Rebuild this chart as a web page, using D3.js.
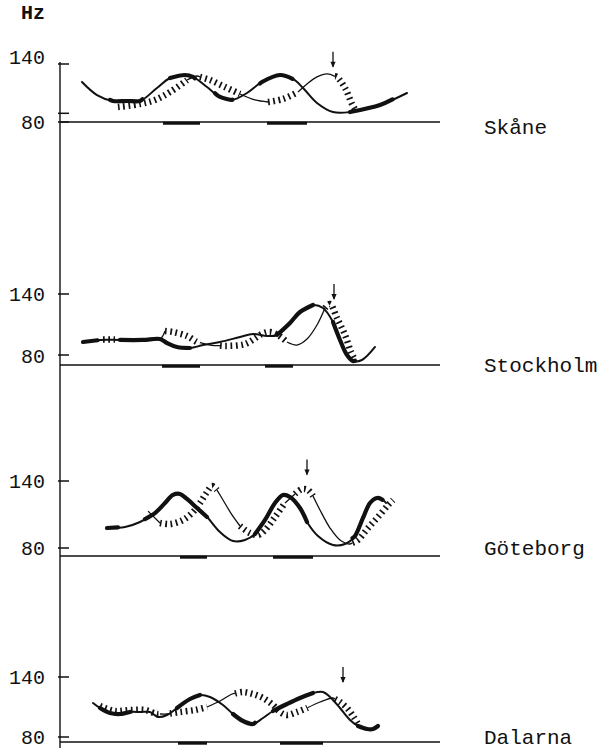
<!DOCTYPE html>
<html>
<head>
<meta charset="utf-8">
<script src="https://cdn.jsdelivr.net/npm/d3@7"></script>
<style>
  body { margin: 0; background: #fff; }
  svg text { font-family: "Liberation Mono", "Courier New", monospace; fill: #111; }
</style>
</head>
<body>
<svg id="chart" width="615" height="750"></svg>
<script>
// F0 contours (time in ms, Hz) for four Swedish dialects

var dialects = ["Skåne", "Stockholm", "Göteborg", "Dalarna"]
var hzTicks = [80, 140]
var skaneMinorTicks = [89]

// contour A: solid line, thick over the given intervals
// contour B: thin line, hatched over the given intervals
var skaneA = [[88,121.4],[148,107.9],[212,101.7],[268,101.7],[320,101.7],[388,115.2],[440,125.5],[500,128.6],[532,126.6],[588,116.2],[640,105.9],[688,102.8],[748,110],[808,121.4],[880,128.6],[932,124.5],[972,115.2],[1028,99.7],[1092,90.3],[1160,90.3],[1280,97.6],[1388,110]]
var skaneAThick = [[200,330],[440,540],[620,690],[800,930],[1160,1330]]
var skaneB = [[232,95.5],[320,98.6],[380,102.8],[440,111],[508,123.4],[548,127.6],[600,123.4],[660,116.2],[720,109],[780,102.8],[832,100.7],[892,103.8],[952,111],[988,119.3],[1028,126.6],[1068,129.7],[1108,126.6],[1140,115.2],[1168,98.6],[1184,91.4]]
var skaneBHatch = [[232,508],[560,720],[832,952],[1100,1184]]
var skaneStress = [[412,560],[828,988]]
var skaneArrow = [1092, 136]

var stockholmA = [[92,92.8],[160,94.8],[240,94.8],[332,94.8],[400,95.7],[428,91.8],[468,87.9],[520,86.9],[572,89.8],[640,92.8],[720,97.7],[772,100.7],[828,98.7],[868,99.7],[920,111.5],[960,122.3],[1012,129.2],[1052,126.2],[1092,112.5],[1120,94.8],[1148,80],[1172,74.1],[1208,75.1],[1260,87.9]]
var stockholmAThick = [[92,150],[240,520],[868,1012],[1092,1180]]
var stockholmB = [[172,95.2],[220,95.2],[332,94.8],[400,95.7],[420,103.6],[452,102.6],[508,98.7],[548,92.8],[600,89.8],[660,88.9],[740,90.8],[808,100.7],[840,102.6],[872,99.7],[908,92.8],[948,89.8],[988,95.7],[1028,109.5],[1060,126.2],[1080,130.2],[1108,116.4],[1140,99.7],[1164,83],[1180,75.1]]
var stockholmBHatch = [[172,220],[420,560],[640,908],[1060,1180]]
var stockholmStress = [[408,560],[820,932]]
var stockholmArrow = [1096, 134]

var goteborgA = [[188,97.9],[260,98.8],[320,103.3],[380,111.3],[420,120.3],[452,127.5],[480,128.4],[508,123.9],[548,115.8],[588,107.8],[640,94.3],[692,86.3],[740,87.2],[780,92.5],[820,105.1],[860,120.3],[892,127.5],[920,125.7],[960,115.8],[988,103.3],[1032,90.7],[1092,82.7],[1140,83.6],[1180,90.7],[1212,106.9],[1240,120.3],[1268,124.8],[1292,123],[1304,120.3]]
var goteborgAThick = [[188,232],[340,588],[780,988],[1170,1290]]
var goteborgB = [[352,113],[400,102.4],[440,101.5],[492,105.1],[532,112.2],[560,120.3],[588,130.1],[608,135.5],[628,131.9],[652,123],[688,109.6],[720,99.7],[760,93.4],[792,91.6],[820,96.1],[860,107.8],[900,120.3],[940,128.4],[968,132.8],[992,131.9],[1012,126.6],[1040,114],[1080,97.9],[1120,87.2],[1160,83.6],[1192,87.2],[1232,97.9],[1272,107.8],[1312,118.5],[1332,123]]
var goteborgBHatch = [[400,628],[720,900],[940,1012],[1170,1332]]
var goteborgStress = [[480,588],[852,1012]]
var goteborgArrow = [988, 145]

var dalarnaA = [[132,114],[160,109],[200,104],[240,103],[280,105],[320,105],[360,105],[392,100],[428,102],[468,109],[520,118],[560,122],[600,120],[652,112],[692,103],[732,96],[772,93],[812,99],[852,106],[908,113],[960,119],[1012,124],[1052,125],[1080,120],[1120,109],[1160,97],[1192,91],[1228,88],[1252,88],[1272,91]]
var dalarnaAThick = [[160,280],[468,560],[692,780],[852,1012],[1192,1272]]
var dalarnaB = [[160,111],[220,106],[280,107],[340,107],[388,103],[428,103],[480,105],[540,107],[588,110],[640,116],[688,123],[732,125],[772,123],[812,119],[852,112],[880,105],[908,102],[948,105],[988,109],[1040,115],[1092,119],[1120,115],[1148,109],[1172,101],[1192,93]]
var dalarnaBHatch = [[160,400],[440,588],[700,990],[1100,1192]]
var dalarnaStress = [[472,588],[880,1052]]
var dalarnaArrow = [1132, 134]

// panel placement (pixels)
var panels = [
  {name: dialects[0], A: skaneA, AThick: skaneAThick, B: skaneB, BHatch: skaneBHatch, stress: skaneStress, arrow: skaneArrow,
   y140: 64, y80: 122, base: 122, lab140: 64, lab80: 129, labName: 134, minor: skaneMinorTicks},
  {name: dialects[1], A: stockholmA, AThick: stockholmAThick, B: stockholmB, BHatch: stockholmBHatch, stress: stockholmStress, arrow: stockholmArrow,
   y140: 294, y80: 355, base: 365, lab140: 301, lab80: 363, labName: 372, minor: []},
  {name: dialects[2], A: goteborgA, AThick: goteborgAThick, B: goteborgB, BHatch: goteborgBHatch, stress: goteborgStress, arrow: goteborgArrow,
   y140: 481, y80: 548, base: 556, lab140: 488, lab80: 555, labName: 555, minor: []},
  {name: dialects[3], A: dalarnaA, AThick: dalarnaAThick, B: dalarnaB, BHatch: dalarnaBHatch, stress: dalarnaStress, arrow: dalarnaArrow,
   y140: 677, y80: 737, base: 742, lab140: 684, lab80: 744, labName: 744, minor: []}
]

var svg = d3.select("#chart")
var ink = "#111"
var axisX = 60

var x = d3.scaleLinear().domain([0, 1520]).range([axisX, 440])

// points of a contour between a and b, with interpolated ends
function slice(pts, a, b) {
  function at(t) {
    for (var i = 1; i < pts.length; i++) {
      if (t <= pts[i][0]) {
        var p = pts[i-1], q = pts[i]
        var f = (t - p[0]) / (q[0] - p[0])
        return [t, p[1] + f * (q[1] - p[1])]
      }
    }
    return pts[pts.length-1]
  }
  a = Math.max(a, pts[0][0])
  b = Math.min(b, pts[pts.length-1][0])
  if (b <= a) return []
  var out = [at(a)]
  pts.forEach(function(p) { if (p[0] > a && p[0] < b) out.push(p) })
  out.push(at(b))
  return out
}

// intervals of [t0,tN] not covered by ivs
function gaps(pts, ivs) {
  var t0 = pts[0][0], tN = pts[pts.length-1][0]
  var out = [], cur = t0
  ivs.slice().sort(function(p, q) { return p[0] - q[0] }).forEach(function(iv) {
    if (iv[0] > cur) out.push([cur, iv[0]])
    cur = Math.max(cur, iv[1])
  })
  if (cur < tN) out.push([cur, tN])
  return out
}

// vertical axis
svg.append("line")
  .attr("x1", axisX).attr("x2", axisX)
  .attr("y1", 62).attr("y2", 748)
  .attr("stroke", ink).attr("stroke-width", 1.4)

svg.append("text")
  .attr("x", 21).attr("y", 19)
  .attr("font-size", 20).attr("font-weight", "bold")
  .text("Hz")

panels.forEach(function(p) {
  var y = d3.scaleLinear().domain([80, 140]).range([p.y80, p.y140])
  var line = d3.line()
    .x(function(d) { return x(d[0]) })
    .y(function(d) { return y(d[1]) })
    .curve(d3.curveCatmullRom.alpha(0.5))
  var g = svg.append("g")

  // ticks and tick labels
  g.selectAll(".tick").data(hzTicks.concat(p.minor)).enter().append("line")
    .attr("x1", axisX - 2).attr("x2", axisX + 9)
    .attr("y1", function(d) { return y(d) }).attr("y2", function(d) { return y(d) })
    .attr("stroke", ink).attr("stroke-width", 1.5)
  g.append("text").attr("x", 45).attr("y", p.lab140)
    .attr("text-anchor", "end").attr("font-size", 20).text(hzTicks[1])
  g.append("text").attr("x", 45).attr("y", p.lab80)
    .attr("text-anchor", "end").attr("font-size", 20).text(hzTicks[0])

  // time baseline with stressed syllables
  g.append("line")
    .attr("x1", axisX).attr("x2", x(1520))
    .attr("y1", p.base).attr("y2", p.base)
    .attr("stroke", ink).attr("stroke-width", 1.3)
  g.selectAll(".stress").data(p.stress).enter().append("line")
    .attr("x1", function(d) { return x(d[0]) }).attr("x2", function(d) { return x(d[1]) })
    .attr("y1", p.base + 1.2).attr("y2", p.base + 1.2)
    .attr("stroke", ink).attr("stroke-width", 3)

  g.append("text").attr("x", 484).attr("y", p.labName)
    .attr("font-size", 21).text(p.name)

  // contour A
  g.append("path").attr("d", line(p.A))
    .attr("fill", "none").attr("stroke", ink).attr("stroke-width", 2)
    .attr("stroke-linecap", "round")
  p.AThick.forEach(function(iv) {
    var s = slice(p.A, iv[0], iv[1])
    if (s.length < 2) return
    g.append("path").attr("d", line(s))
      .attr("fill", "none").attr("stroke", ink).attr("stroke-width", 4.2)
      .attr("stroke-linecap", "round")
  })

  // contour B
  gaps(p.B, p.BHatch).forEach(function(iv) {
    var s = slice(p.B, iv[0], iv[1])
    if (s.length < 2) return
    g.append("path").attr("d", line(s))
      .attr("fill", "none").attr("stroke", ink).attr("stroke-width", 1.3)
  })
  p.BHatch.forEach(function(iv) {
    var s = slice(p.B, iv[0], iv[1])
    if (s.length < 2) return
    g.append("path").attr("d", line(s))
      .attr("fill", "none").attr("stroke", ink).attr("stroke-width", 6.5)
      .attr("stroke-dasharray", "1.7,3.6")
  })

  // arrow over the focus peak
  var ax = x(p.arrow[0]), ay = y(p.arrow[1])
  g.append("line")
    .attr("x1", ax).attr("x2", ax).attr("y1", ay - 16).attr("y2", ay - 1)
    .attr("stroke", ink).attr("stroke-width", 1.3)
  g.append("path")
    .attr("d", "M" + (ax - 2.6) + "," + (ay - 6) + "L" + ax + "," + ay + "L" + (ax + 2.6) + "," + (ay - 6) + "Z")
    .attr("fill", ink)
})
</script>
</body>
</html>
